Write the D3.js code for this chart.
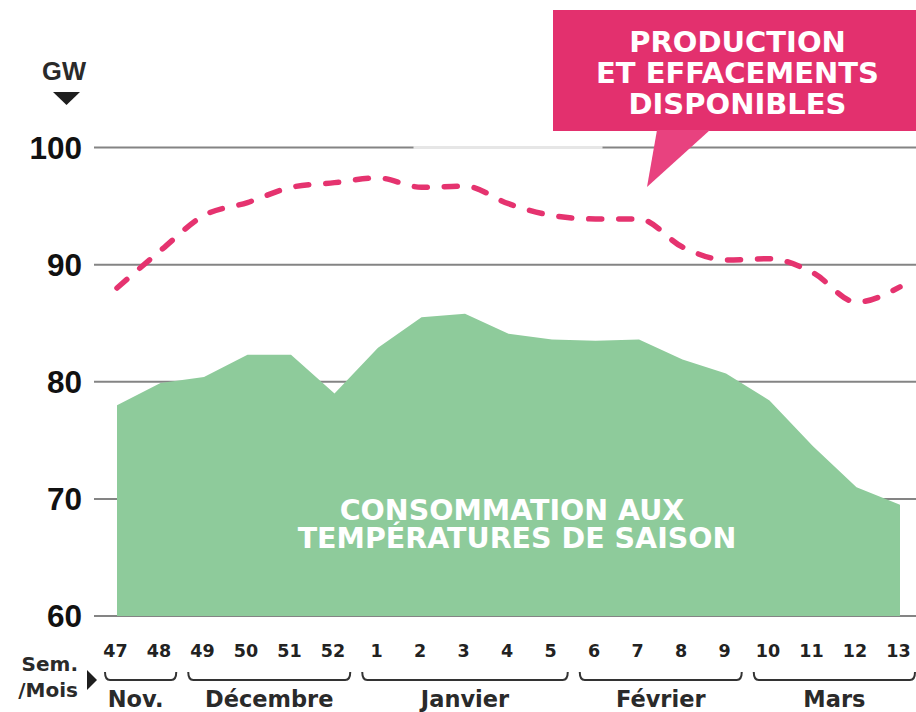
<!DOCTYPE html>
<html><head><meta charset="utf-8">
<script src="https://cdn.jsdelivr.net/npm/d3@7/dist/d3.min.js"></script>
<style>
html,body{margin:0;padding:0;background:#fff;}
svg{display:block;}
</style></head>
<body>
<svg id="chart" width="916" height="712"></svg>
<script>
const weeks = ["47","48","49","50","51","52","1","2","3","4","5","6","7","8","9","10","11","12","13"];
const consumption = [78.0, 79.9, 80.4, 82.3, 82.3, 79.0, 82.9, 85.5, 85.8, 84.1, 83.6, 83.5, 83.6, 81.9, 80.7, 78.4, 74.5, 71.0, 69.5];
const production = [88.0, 91.2, 94.2, 95.3, 96.6, 97.0, 97.4, 96.6, 96.7, 95.2, 94.2, 93.9, 93.9, 91.5, 90.4, 90.5, 89.3, 86.8, 88.1];
const yTicks = [60, 70, 80, 90, 100];
const months = [
  {label: "Nov.", first: "47", last: "48"},
  {label: "Décembre", first: "49", last: "52"},
  {label: "Janvier", first: "1", last: "5"},
  {label: "Février", first: "6", last: "9"},
  {label: "Mars", first: "10", last: "13"}
];
const unitLabel = "GW";
const calloutLines = ["PRODUCTION", "ET EFFACEMENTS", "DISPONIBLES"];
const areaLines = ["CONSOMMATION AUX", "TEMPÉRATURES DE SAISON"];

const svg = d3.select("#chart");
const x = d3.scalePoint().domain(weeks).range([117, 900]);
const y = d3.scaleLinear().domain([60, 100]).range([616, 147.5]);
const step = x.step();

// gridlines
const grid = svg.append("g");
grid.selectAll("line").data(yTicks).join("line")
  .attr("x1", 94).attr("x2", 916)
  .attr("y1", d => y(d)).attr("y2", d => y(d))
  .attr("stroke", "#848484").attr("stroke-width", 2);
// light segment on top gridline
grid.append("line")
  .attr("x1", x("2") - 8).attr("x2", x("6") + 7)
  .attr("y1", y(100)).attr("y2", y(100))
  .attr("stroke", "#e6e6e6").attr("stroke-width", 3);

// tick labels
svg.append("g").selectAll("text").data(yTicks).join("text")
  .attr("x", 82).attr("y", d => y(d))
  .attr("dy", "0.36em")
  .attr("text-anchor", "end")
  .attr("font-family", "'Liberation Sans', Arial, sans-serif")
  .attr("font-weight", "bold").attr("font-size", 31.5)
  .attr("fill", "#111")
  .text(d => d);

// unit
svg.append("text").attr("x", 64).attr("y", 80)
  .attr("text-anchor", "middle")
  .attr("font-family", "'Liberation Sans', Arial, sans-serif")
  .attr("font-weight", "bold").attr("font-size", 25.5).attr("fill", "#2a2a2a")
  .text(unitLabel);
svg.append("path").attr("d", "M53,92 L80,92 L66.5,105 Z").attr("fill", "#1e1e1e");

// area
const area = d3.area()
  .x((d, i) => x(weeks[i]))
  .y0(y(60))
  .y1(d => y(d));
svg.append("path").datum(consumption)
  .attr("d", area).attr("fill", "#8ecb9b");

// area label (one text, two lines)
const at = svg.append("text")
  .attr("text-anchor", "middle")
  .attr("font-family", "'DejaVu Sans', Verdana, sans-serif")
  .attr("font-weight", "bold").attr("font-size", 28.5)
  .attr("fill", "#fff");
at.selectAll("tspan").data(areaLines).join("tspan")
  .attr("x", (d, i) => i === 0 ? 512 : 517)
  .attr("y", (d, i) => 519.5 + i * 28.5)
  .text(d => d);

// dashed production line
const line = d3.line()
  .x((d, i) => x(weeks[i]))
  .y(d => y(d))
  .curve(d3.curveMonotoneX);
svg.append("path").datum(production)
  .attr("d", line)
  .attr("fill", "none")
  .attr("stroke", "#e5336f")
  .attr("stroke-width", 5.5)
  .attr("stroke-linecap", "round")
  .attr("stroke-dasharray", "13,17");

// callout
svg.append("rect").attr("x", 553).attr("y", 10).attr("width", 370).attr("height", 121)
  .attr("fill", "#e3306e");
svg.append("path").attr("d", "M657,130 L710,130 L647,187 Z").attr("fill", "#e8427f");
const ct = svg.append("text")
  .attr("text-anchor", "middle")
  .attr("font-family", "'DejaVu Sans', Verdana, sans-serif")
  .attr("font-weight", "bold").attr("font-size", 29)
  .attr("fill", "#fff");
ct.selectAll("tspan").data(calloutLines).join("tspan")
  .attr("x", 737.5).attr("y", (d, i) => 51.5 + i * 31)
  .text(d => d);

// week labels
svg.append("g").selectAll("text").data(weeks).join("text")
  .attr("x", d => x(d) - 1.5).attr("y", 657)
  .attr("text-anchor", "middle")
  .attr("font-family", "'DejaVu Sans', Verdana, sans-serif")
  .attr("font-weight", "bold").attr("font-size", 17.5)
  .attr("fill", "#222")
  .text(d => d);

// braces
const braceY = 680, hook = 8, r = 5;
const bg = svg.append("g");
months.forEach((m, i) => {
  let x0 = x(m.first) - step / 2 + 6;
  let x1 = x(m.last) + step / 2 - 6;
  if (i === 0) x0 = x(m.first) - 12;
  x1 = Math.min(x1, 915);
  const p = `M${x0},${braceY - hook} Q${x0},${braceY} ${x0 + r},${braceY} L${x1 - r},${braceY} Q${x1},${braceY} ${x1},${braceY - hook}`;
  bg.append("path").attr("d", p).attr("fill", "none")
    .attr("stroke", "#333").attr("stroke-width", 2);
  bg.append("text").attr("x", (x0 + x1) / 2 - (i === 0 ? 5 : 0)).attr("y", 707)
    .attr("text-anchor", "middle")
    .attr("font-family", "'DejaVu Sans', Verdana, sans-serif")
    .attr("font-weight", "bold").attr("font-size", 22.5)
    .attr("fill", "#2a2a2a")
    .text(m.label);
});

// Sem./Mois
svg.append("text").attr("x", 78).attr("y", 671).attr("text-anchor", "end")
  .attr("font-family", "'DejaVu Sans', Verdana, sans-serif")
  .attr("font-weight", "bold").attr("font-size", 20).attr("fill", "#2a2a2a")
  .text("Sem.");
svg.append("text").attr("x", 78).attr("y", 697).attr("text-anchor", "end")
  .attr("font-family", "'DejaVu Sans', Verdana, sans-serif")
  .attr("font-weight", "bold").attr("font-size", 20).attr("fill", "#2a2a2a")
  .text("/Mois");
svg.append("path").attr("d", "M87,670 L97,680 L87,690 Z").attr("fill", "#1e1e1e");
</script>
</body></html>
